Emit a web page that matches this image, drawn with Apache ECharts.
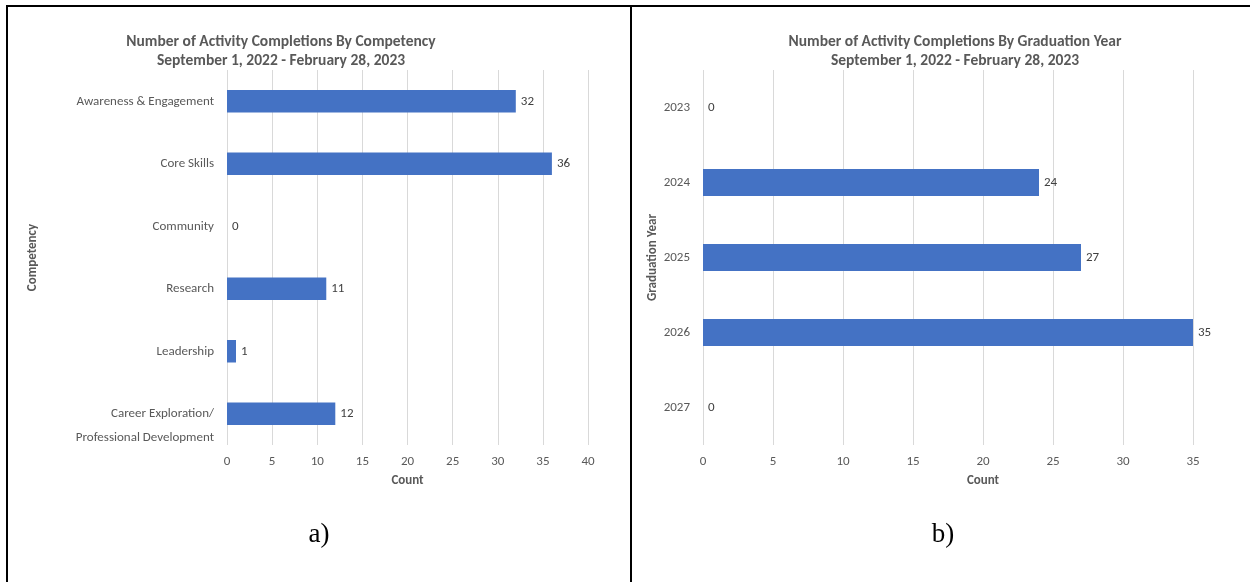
<!DOCTYPE html>
<html>
<head>
<meta charset="utf-8">
<script src="https://cdn.jsdelivr.net/npm/echarts@6/dist/echarts.min.js"></script>
<style>
html,body{margin:0;padding:0;background:#fff;}
#c{width:1250px;height:582px;}
</style>
</head>
<body>
<div id="c"></div>
<script>
// ---- data ----
const competencyCategories = ['Awareness & Engagement', 'Core Skills', 'Community', 'Research', 'Leadership', 'Career Exploration/\nProfessional Development'];
const competencyValues = [32, 36, 0, 11, 1, 12];
const yearCategories = ['2023', '2024', '2025', '2026', '2027'];
const yearValues = [0, 24, 27, 35, 0];
const leftTitle = 'Number of Activity Completions By Competency\nSeptember 1, 2022 - February 28, 2023';
const rightTitle = 'Number of Activity Completions By Graduation Year\nSeptember 1, 2022 - February 28, 2023';

const FONT = 'Carlito, Calibri, "Liberation Sans", sans-serif';
const GREY = '#595959';
const BAR = '#4472C4';

const chart = echarts.init(document.getElementById('c'), null, {renderer: 'canvas'});

function xAxisCfg(gridIndex) {
  return {
    type: 'value', gridIndex: gridIndex, min: 0, max: 40, interval: 5,
    name: 'Count', nameLocation: 'middle', nameGap: 29,
    nameTextStyle: {color: GREY, fontFamily: FONT, fontSize: 13, fontWeight: 'bold'},
    axisLine: {show: false}, axisTick: {show: false},
    axisLabel: {color: GREY, fontFamily: FONT, fontSize: 13, margin: 10},
    splitLine: {show: true, lineStyle: {color: '#d9d9d9', width: 1}}
  };
}
function yAxisCfg(gridIndex, cats, name, gap) {
  return {
    type: 'category', gridIndex: gridIndex, data: cats, inverse: true,
    name: name, nameLocation: 'middle', nameGap: gap, nameRotate: 90,
    nameTextStyle: {color: GREY, fontFamily: FONT, fontSize: 13, fontWeight: 'bold'},
    axisLine: {show: false}, axisTick: {show: false},
    axisLabel: {
      color: GREY, fontFamily: FONT, fontSize: 13, margin: 13, lineHeight: 24,
      formatter: function (v) { return v.indexOf('\n') >= 0 ? '\n' + v : v; }
    },
    splitLine: {show: false}
  };
}
function seriesCfg(idx, values) {
  return {
    type: 'bar', xAxisIndex: idx, yAxisIndex: idx, data: values,
    barCategoryGap: '64%',
    itemStyle: {color: BAR},
    label: {show: true, position: 'right', distance: 5, color: '#404040', fontFamily: FONT, fontSize: 13},
    silent: true
  };
}

chart.setOption({
  animation: false,
  backgroundColor: '#fff',
  title: [
    {text: leftTitle, left: 276, top: 28, textAlign: 'center',
     textStyle: {color: GREY, fontFamily: FONT, fontSize: 15.5, fontWeight: 'bold', lineHeight: 19}},
    {text: rightTitle, left: 950, top: 28, textAlign: 'center',
     textStyle: {color: GREY, fontFamily: FONT, fontSize: 15.5, fontWeight: 'bold', lineHeight: 19}}
  ],
  grid: [
    {left: 227, width: 361, top: 70, height: 375, containLabel: false, outerBoundsMode: 'none'},
    {left: 703, width: 560, top: 70, height: 375, containLabel: false, outerBoundsMode: 'none'}
  ],
  xAxis: [xAxisCfg(0), xAxisCfg(1)],
  yAxis: [
    yAxisCfg(0, competencyCategories, 'Competency', 188),
    yAxisCfg(1, yearCategories, 'Graduation Year', 44)
  ],
  series: [seriesCfg(0, competencyValues), seriesCfg(1, yearValues)],
  graphic: [
    {type: 'line', shape: {x1: 7, y1: 6, x2: 1250, y2: 6}, style: {stroke: '#000', lineWidth: 2}},
    {type: 'line', shape: {x1: 7, y1: 5, x2: 7, y2: 582}, style: {stroke: '#000', lineWidth: 2}},
    {type: 'line', shape: {x1: 631, y1: 5, x2: 631, y2: 582}, style: {stroke: '#000', lineWidth: 2}},
    {type: 'text', x: 319, y: 535, style: {text: 'a)', font: '27px "Liberation Serif", "Times New Roman", serif', fill: '#000', textAlign: 'center', textVerticalAlign: 'middle'}},
    {type: 'text', x: 943, y: 535, style: {text: 'b)', font: '27px "Liberation Serif", "Times New Roman", serif', fill: '#000', textAlign: 'center', textVerticalAlign: 'middle'}}
  ]
});
</script>
</body>
</html>
